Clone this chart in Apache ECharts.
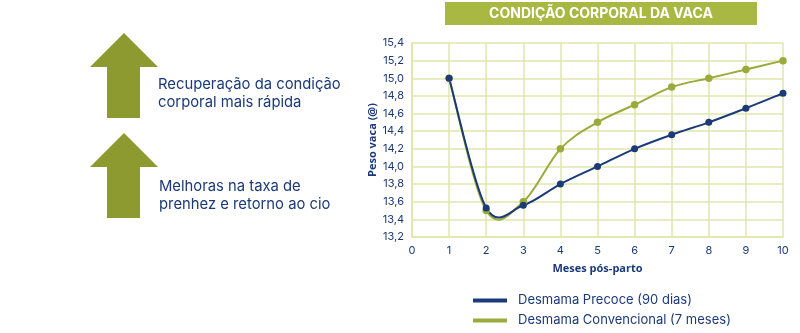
<!DOCTYPE html>
<html><head><meta charset="utf-8">
<script src="https://cdn.jsdelivr.net/npm/echarts@6/dist/echarts.min.js"></script>
<style>html,body{margin:0;padding:0;background:#fff}#c{width:800px;height:333px}</style>
</head><body><div id="c"></div>
<script>
const months = [1,2,3,4,5,6,7,8,9,10];
const precoce = [15.0,13.53,13.56,13.8,14.0,14.2,14.36,14.5,14.66,14.83];
const convencional = [15.0,13.5,13.6,14.2,14.5,14.7,14.9,15.0,15.1,15.2];
const seriesNames = ['Desmama Precoce (90 dias)','Desmama Convencional (7 meses)'];
const title = 'CONDIÇÃO CORPORAL DA VACA';
const notes = [['Recuperação da condição','corporal mais rápida'],['Melhoras na taxa de','prenhez e retorno ao cio']];

const NAVY = '#1b3a78', GREEN = '#9aab3c', ARROW = '#8d9a2f', GRIDC = '#e0e6ac';
const font = 'Inter, "Noto Sans", sans-serif';

function arrow(top){
  return {type:'polygon', shape:{points:[[124,top],[158,top+34],[140,top+34],[140,top+85],[107,top+85],[107,top+34],[90,top+34]]}, style:{fill:ARROW}};
}
// Catmull-Rom smoothed path (like spreadsheet smoothed lines), computed in pixel space via api.coord
function splineRender(values, color){
  return function(params, api){
    if (params.dataIndex !== 0) return null;
    const pts = months.map((m,i)=>api.coord([m, values[i]]));
    let d = 'M' + pts[0][0] + ' ' + pts[0][1];
    for (let i=0;i<pts.length-1;i++){
      const p0 = pts[Math.max(i-1,0)], p1 = pts[i], p2 = pts[i+1], p3 = pts[Math.min(i+2,pts.length-1)];
      const c1 = [p1[0]+(p2[0]-p0[0])/6, p1[1]+(p2[1]-p0[1])/6];
      const c2 = [p2[0]-(p3[0]-p1[0])/6, p2[1]-(p3[1]-p1[1])/6];
      d += ' C'+c1[0]+' '+c1[1]+' '+c2[0]+' '+c2[1]+' '+p2[0]+' '+p2[1];
    }
    return {type:'path', shape:{pathData:d}, style:{stroke:color, lineWidth:2, fill:null}};
  };
}
const chart = echarts.init(document.getElementById('c'));
chart.setOption({
  animation:false,
  textStyle:{fontFamily:font},
  grid:{left:412,right:17,top:43,bottom:96},
  legend:{orient:'vertical',left:468,top:289,itemWidth:34,itemHeight:4,itemGap:7,icon:'rect',
    textStyle:{color:NAVY,fontSize:13,fontFamily:font,padding:[0,0,0,6]},
    data:[{name:seriesNames[0],itemStyle:{color:NAVY}},{name:seriesNames[1],itemStyle:{color:GREEN}}]},
  xAxis:{type:'value',min:0,max:10,interval:1,name:'Meses pós-parto',nameLocation:'middle',nameGap:26,
    nameTextStyle:{color:NAVY,fontWeight:'bold',fontSize:11,fontFamily:'"Open Sans", sans-serif'},
    axisLine:{show:true,lineStyle:{color:GRIDC,width:1.5}},axisTick:{show:false},
    axisLabel:{color:NAVY,fontSize:11,margin:8},
    splitLine:{show:true,lineStyle:{color:GRIDC,width:1.5}}},
  yAxis:{type:'value',min:13.2,max:15.4,interval:0.2,name:'Peso vaca (@)',nameLocation:'middle',nameGap:32,
    nameTextStyle:{color:NAVY,fontWeight:'bold',fontSize:11,fontFamily:'"Open Sans", sans-serif'},
    axisLine:{show:true,lineStyle:{color:GRIDC,width:1.5}},axisTick:{show:false},
    axisLabel:{color:NAVY,fontSize:11,margin:8,formatter:v=>v.toFixed(1).replace('.',',')},
    splitLine:{show:true,lineStyle:{color:GRIDC,width:1.5}}},
  series:[
    {name:seriesNames[1],type:'custom',renderItem:splineRender(convencional,GREEN),
      data:months.map((m,i)=>[m,convencional[i]]),itemStyle:{color:GREEN},z:2},
    {name:seriesNames[0],type:'custom',renderItem:splineRender(precoce,NAVY),
      data:months.map((m,i)=>[m,precoce[i]]),itemStyle:{color:NAVY},z:3},
    {name:'pts1',type:'scatter',data:months.map((m,i)=>[m,convencional[i]]),
      symbol:'circle',symbolSize:7.5,itemStyle:{color:GREEN,opacity:1},z:4},
    {name:'pts0',type:'scatter',data:months.map((m,i)=>[m,precoce[i]]),
      symbol:'circle',symbolSize:7,itemStyle:{color:NAVY,opacity:1},z:5}
  ],
  graphic:[
    {type:'rect',shape:{x:445,y:2,width:312,height:23},style:{fill:'#a9b843'}},
    {type:'text',x:601,y:13.5,style:{text:title,fill:'#fff',font:'bold 14px '+font,textAlign:'center',textVerticalAlign:'middle'}},
    arrow(33), arrow(133),
    {type:'text',x:158,y:94,style:{text:notes[0].join('\n'),fill:NAVY,font:'14.8px '+font,lineHeight:18,textVerticalAlign:'middle'}},
    {type:'text',x:159,y:196,style:{text:notes[1].join('\n'),fill:NAVY,font:'14.8px '+font,lineHeight:18,textVerticalAlign:'middle'}}
  ]
});
</script></body></html>
